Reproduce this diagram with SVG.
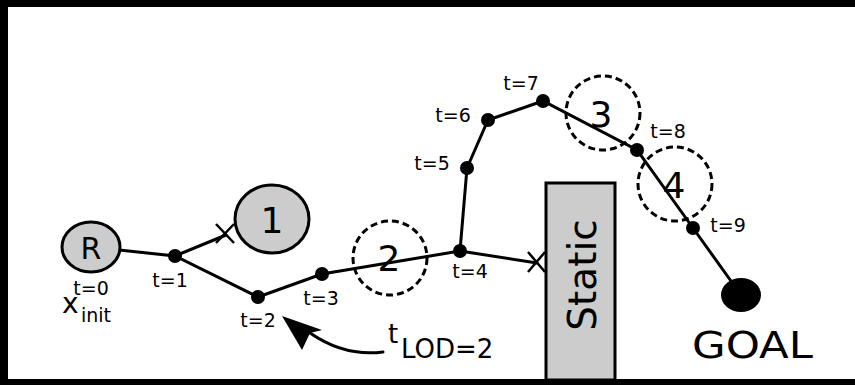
<svg xmlns="http://www.w3.org/2000/svg" width="855" height="385" viewBox="0 0 855 385">
<style>
.edge{stroke:#000;stroke-width:3;fill:none;stroke-linecap:round}
.dot{fill:#000}
.lbl{font-family:"DejaVu Sans",sans-serif;font-size:19px;fill:#000;text-anchor:middle}
.big{font-family:"DejaVu Sans",sans-serif;font-size:36px;fill:#000;text-anchor:middle}
.obs{fill:#cccccc;stroke:#000;stroke-width:3}
.dash{fill:none;stroke:#000;stroke-width:3;stroke-dasharray:7 4}
</style>
<rect x="0" y="0" width="855" height="385" fill="#fff"/>
<g id="frame">
<rect x="0" y="0" width="855" height="7" fill="#000"/>
<rect x="0" y="0" width="8" height="385" fill="#000"/>
<rect x="0" y="379" width="855" height="6" fill="#000"/>
</g>
<g id="connectors">
<polyline class="edge" points="91,247 175,256 258,297 322,274 460,251 467,168 488,120 543,101 637,150 693,228 741,295"/>
<line class="edge" x1="175" y1="256" x2="226" y2="235"/>
<line class="edge" x1="460" y1="251" x2="537" y2="263"/>
<path d="M 383 352 Q 345 357 310 333" class="edge"/>
<polygon points="282,316 322,330 310,333 302,350" fill="#000"/>
</g>
<g id="x-marks" stroke="#000" stroke-width="2.5">
<line x1="216" y1="224" x2="234" y2="243"/>
<line x1="216" y1="243" x2="234" y2="224"/>
<line x1="528" y1="252" x2="545" y2="272"/>
<line x1="528" y1="272" x2="545" y2="252"/>
</g>
<g id="robot"><ellipse cx="91" cy="247" rx="29" ry="25" class="obs"/><text x="91" y="259" class="big" style="font-size:30px">R</text></g>
<g id="obstacle1"><ellipse cx="272" cy="219" rx="37" ry="34" class="obs"/><text x="272" y="233" class="big">1</text></g>
<g id="obstacle2"><circle cx="390" cy="258" r="37" class="dash"/><text x="389" y="271" class="big">2</text></g>
<g id="obstacle3"><circle cx="603" cy="113" r="37" class="dash"/><text x="601" y="127" class="big">3</text></g>
<g id="obstacle4"><circle cx="675" cy="184" r="37" class="dash"/><text x="674" y="198" class="big">4</text></g>
<g id="static"><rect x="546" y="183" width="69" height="197" class="obs"/><text transform="translate(596,275) rotate(-90)" class="big" style="font-size:39px">Static</text></g>
<g id="goal"><ellipse cx="741" cy="295" rx="20" ry="17" fill="#000"/><text x="692" y="358" style="font-family:'DejaVu Sans',sans-serif;font-size:38px" textLength="121" lengthAdjust="spacingAndGlyphs">GOAL</text></g>
<g id="nodes">
<circle class="dot" cx="175" cy="256" r="7"/>
<circle class="dot" cx="258" cy="297" r="7"/>
<circle class="dot" cx="322" cy="274" r="7"/>
<circle class="dot" cx="460" cy="251" r="7"/>
<circle class="dot" cx="467" cy="168" r="7"/>
<circle class="dot" cx="488" cy="120" r="7"/>
<circle class="dot" cx="543" cy="101" r="7"/>
<circle class="dot" cx="637" cy="150" r="7"/>
<circle class="dot" cx="693" cy="228" r="7"/>
</g>
<g id="labels">
<text class="lbl" x="91" y="295">t=0</text>
<text x="62" y="313" style="font-family:'DejaVu Sans',sans-serif;font-size:28px">x</text><text x="81" y="322" style="font-family:'DejaVu Sans',sans-serif;font-size:19px">init</text>
<text class="lbl" x="170" y="287">t=1</text>
<text class="lbl" x="258" y="327">t=2</text>
<text class="lbl" x="321" y="305">t=3</text>
<text class="lbl" x="470" y="278">t=4</text>
<text class="lbl" x="432" y="170">t=5</text>
<text class="lbl" x="453" y="122">t=6</text>
<text class="lbl" x="521" y="90">t=7</text>
<text class="lbl" x="668" y="138">t=8</text>
<text class="lbl" x="728" y="232">t=9</text>
<text x="388" y="343" style="font-family:'DejaVu Sans',sans-serif;font-size:26px">t</text><text x="401" y="358" style="font-family:'DejaVu Sans',sans-serif;font-size:26px">LOD=2</text>
</g>
</svg>
